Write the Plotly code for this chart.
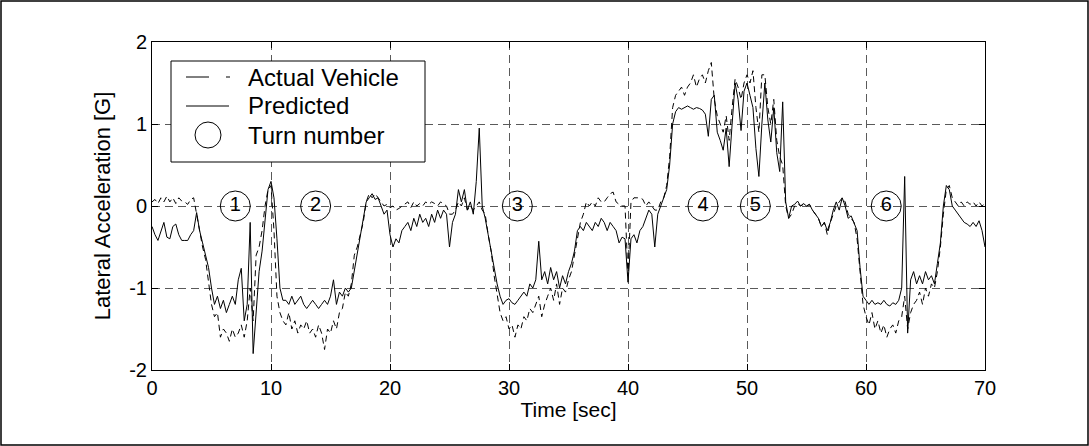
import plotly.graph_objects as go

# ---------------- data (0.25 s sampling) ----------------
SAMPLE_DT = 0.25

predicted_00_10 = [-0.25, -0.35, -0.42, -0.30, -0.20, -0.38, -0.40, -0.25, -0.22, -0.35,
                   -0.42, -0.42, -0.42, -0.35, -0.30, -0.08, -0.30, -0.45, -0.60, -0.75,
                   -1.00, -1.20, -1.10, -1.25, -1.15, -1.30, -1.20, -1.10, -1.20, -0.90,
                   -0.76, -1.40, -1.20, -0.20, -1.80, -1.30, -0.80, -0.55, -0.20, 0.20]
actual_00_10 = [0.05, 0.08, 0.03, 0.10, 0.05, 0.12, 0.05, 0.10, 0.03, 0.10,
                0.06, 0.05, 0.02, 0.08, 0.10, -0.10, -0.35, -0.50, -0.65, -0.90,
                -1.20, -1.35, -1.30, -1.60, -1.50, -1.55, -1.65, -1.50, -1.60, -1.55,
                -1.45, -1.60, -1.40, -1.00, -1.40, -0.60, -0.50, -0.30, 0.00, 0.20]

predicted_10_20 = [0.30, 0.10, -0.40, -1.00, -1.15, -1.15, -1.20, -1.10, -1.20, -1.15,
                   -1.10, -1.20, -1.25, -1.20, -1.15, -1.20, -1.25, -1.20, -1.15, -1.20,
                   -1.10, -0.90, -1.20, -1.05, -1.10, -1.00, -1.05, -1.00, -0.80, -0.55,
                   -0.35, -0.15, 0.05, 0.10, 0.15, 0.08, 0.10, 0.00, -0.10, -0.05]
actual_10_20 = [0.25, -0.30, -1.10, -1.30, -1.40, -1.45, -1.30, -1.50, -1.40, -1.55,
                -1.45, -1.50, -1.40, -1.55, -1.50, -1.60, -1.45, -1.55, -1.75, -1.50,
                -1.55, -1.40, -1.50, -1.30, -1.25, -1.05, -1.10, -0.95, -0.60, -0.50,
                -0.35, -0.20, 0.05, 0.15, 0.10, 0.15, 0.10, 0.05, 0.00, 0.02]

predicted_20_30 = [-0.35, -0.50, -0.40, -0.45, -0.30, -0.25, -0.20, -0.30, -0.15, -0.25,
                   -0.10, -0.20, -0.15, -0.25, -0.10, -0.20, -0.05, -0.15, -0.05, -0.10,
                   -0.50, -0.20, -0.10, 0.20, 0.05, 0.20, -0.05, 0.05, -0.10, 0.30,
                   0.95, 0.00, -0.15, -0.35, -0.55, -0.80, -0.95, -1.10, -1.20, -1.15]
actual_20_30 = [-0.02, 0.00, -0.05, -0.03, 0.00, 0.02, 0.05, -0.02, 0.05, 0.00,
                0.03, 0.00, 0.05, 0.02, 0.05, 0.03, 0.00, 0.05, 0.02, 0.00,
                -0.10, -0.10, -0.05, 0.05, 0.00, 0.10, -0.05, 0.00, -0.05, 0.00,
                0.05, -0.05, -0.10, -0.35, -0.55, -0.85, -1.10, -1.30, -1.40, -1.35]

predicted_30_40 = [-1.13, -1.18, -1.20, -1.15, -1.10, -1.05, -1.10, -0.95, -1.00, -0.90,
                   -0.43, -0.90, -0.80, -0.95, -0.75, -0.90, -0.80, -1.00, -0.85, -0.95,
                   -0.80, -0.70, -0.55, -0.30, -0.25, -0.30, -0.20, -0.25, -0.30, -0.20,
                   -0.25, -0.15, -0.20, -0.30, -0.20, -0.25, -0.30, -0.45, -0.38, -0.40]
actual_30_40 = [-1.50, -1.45, -1.60, -1.45, -1.50, -1.35, -1.40, -1.25, -1.30, -1.20,
                -1.10, -1.35, -1.20, -1.10, -1.00, -1.15, -0.95, -1.20, -1.00, -1.05,
                -0.90, -0.80, -0.60, -0.35, -0.20, -0.10, 0.05, 0.00, 0.05, 0.00,
                0.10, 0.05, 0.05, 0.10, 0.15, 0.17, 0.05, 0.02, 0.00, 0.00]

predicted_40_50 = [-0.93, -0.40, -0.35, -0.45, -0.30, -0.25, -0.15, -0.05, -0.10, -0.50,
                   -0.10, 0.00, 0.10, 0.20, 0.50, 1.00, 1.15, 1.20, 1.18, 1.20,
                   1.22, 1.20, 1.18, 1.20, 1.19, 1.17, 1.12, 0.85, 1.30, 1.35,
                   0.90, 0.80, 0.68, 0.95, 0.48, 1.00, 1.50, 1.30, 0.92, 1.40]
actual_40_50 = [-0.85, 0.05, 0.10, 0.10, 0.10, 0.08, 0.00, 0.05, 0.00, -0.05,
                -0.05, 0.05, 0.10, 0.25, 0.60, 1.20, 1.35, 1.40, 1.45, 1.35,
                1.45, 1.50, 1.60, 1.45, 1.55, 1.60, 1.50, 1.65, 1.75, 1.30,
                1.10, 1.00, 0.90, 1.10, 0.80, 1.20, 1.55, 1.45, 1.30, 1.50]

predicted_50_60 = [1.50, 1.35, 1.20, 0.70, 0.36, 1.00, 1.50, 1.05, 0.78, 1.20,
                   0.65, 0.42, 1.27, 0.05, -0.15, 0.00, 0.02, 0.06, 0.00, 0.03,
                   0.00, 0.02, -0.05, -0.10, -0.15, -0.25, -0.20, -0.30, -0.20, -0.05,
                   0.05, -0.05, 0.10, 0.00, -0.15, -0.12, -0.20, -0.30, -0.75, -1.10]
actual_50_60 = [1.60, 1.50, 1.65, 1.20, 0.90, 1.60, 1.60, 1.20, 1.00, 1.30,
                0.80, 0.60, 0.50, 0.00, -0.15, -0.10, 0.00, 0.03, 0.00, 0.02,
                0.00, 0.02, -0.05, -0.10, -0.15, -0.25, -0.20, -0.35, -0.20, -0.10,
                0.00, 0.05, 0.10, 0.05, -0.10, -0.15, -0.20, -0.40, -0.80, -1.20]

predicted_60_70 = [-1.15, -1.20, -1.15, -1.20, -1.18, -1.20, -1.15, -1.20, -1.22, -1.18,
                   -1.20, -1.15, -1.00, 0.36, -1.55, -0.90, -0.80, -0.95, -0.85, -0.95,
                   -0.80, -0.90, -0.85, -0.95, -0.70, -0.45, 0.00, 0.25, 0.20, 0.00,
                   -0.05, -0.10, -0.15, -0.20, -0.22, -0.25, -0.20, -0.25, -0.18, -0.30,
                   -0.50]
actual_60_70 = [-1.35, -1.45, -1.30, -1.50, -1.40, -1.55, -1.45, -1.60, -1.50, -1.45,
                -1.55, -1.40, -1.35, -1.10, -1.50, -1.30, -1.20, -1.15, -1.05, -1.20,
                -1.00, -1.10, -0.95, -1.00, -0.80, -0.50, -0.10, 0.20, 0.25, 0.10,
                0.05, 0.00, 0.05, 0.00, 0.05, 0.02, 0.05, 0.00, 0.05, 0.00,
                0.03]

predicted = (predicted_00_10 + predicted_10_20 + predicted_20_30 + predicted_30_40
             + predicted_40_50 + predicted_50_60 + predicted_60_70)
actual = (actual_00_10 + actual_10_20 + actual_20_30 + actual_30_40
          + actual_40_50 + actual_50_60 + actual_60_70)
time_sec = [round(i * SAMPLE_DT, 2) for i in range(len(predicted))]

turn_times = [7.0, 13.75, 30.7, 46.3, 50.7, 61.7]
turn_values = [0, 0, 0, 0, 0, 0]
turn_labels = ["1", "2", "3", "4", "5", "6"]

x_ticks = [0, 10, 20, 30, 40, 50, 60, 70]
x_tick_labels = ["0", "10", "20", "30", "40", "50", "60", "70"]
y_ticks = [-2, -1, 0, 1, 2]
y_tick_labels = ["-2", "-1", "0", "1", "2"]

legend_names = ["Actual Vehicle", "Predicted", "Turn number"]

# ---------------- figure ----------------
W, H = 1089, 446
L, R, T, B = 152, 104, 42, 76
FONT = "Liberation Sans, Arial, Helvetica, sans-serif"


def px(x):
    return (x - L) / (W - L - R)


def py(y):
    return (H - B - y) / (H - T - B)


fig = go.Figure()

fig.add_trace(go.Scatter(x=time_sec, y=actual, mode="lines", name=legend_names[0],
                         line=dict(color="black", width=1, dash="6px,4px"),
                         showlegend=False))
fig.add_trace(go.Scatter(x=time_sec, y=predicted, mode="lines", name=legend_names[1],
                         line=dict(color="black", width=1), showlegend=False))
fig.add_trace(go.Scatter(x=turn_times, y=turn_values, mode="markers+text",
                         name=legend_names[2], text=turn_labels,
                         textposition="middle center",
                         textfont=dict(family=FONT, size=20, color="black"),
                         marker=dict(symbol="circle-open", size=30,
                                     color="black", line=dict(width=1)),
                         showlegend=False))

shapes = []
annotations = []

# outer frame
shapes.append(dict(type="rect", xref="paper", yref="paper",
                   x0=px(1), x1=px(1088), y0=py(445), y1=py(1),
                   line=dict(color="black", width=1.5), layer="below"))

# legend box
lx0, lx1, ly0, ly1 = 171, 425, 61, 162
shapes.append(dict(type="rect", xref="paper", yref="paper",
                   x0=px(lx0), x1=px(lx1), y0=py(ly1), y1=py(ly0),
                   line=dict(color="black", width=1), fillcolor="white", layer="above"))
row_y = [77, 106, 135]
# Actual vehicle sample (long dash + short dash)
shapes.append(dict(type="line", xref="paper", yref="paper",
                   x0=px(186), x1=px(209), y0=py(row_y[0]), y1=py(row_y[0]),
                   line=dict(color="black", width=1), layer="above"))
shapes.append(dict(type="line", xref="paper", yref="paper",
                   x0=px(226), x1=px(230), y0=py(row_y[0]), y1=py(row_y[0]),
                   line=dict(color="black", width=1), layer="above"))
# Predicted sample
shapes.append(dict(type="line", xref="paper", yref="paper",
                   x0=px(186), x1=px(229), y0=py(row_y[1]), y1=py(row_y[1]),
                   line=dict(color="black", width=1), layer="above"))
# Turn number sample circle
shapes.append(dict(type="circle", xref="paper", yref="paper",
                   x0=px(195), x1=px(221), y0=py(row_y[2] + 13), y1=py(row_y[2] - 13),
                   line=dict(color="black", width=1), layer="above"))
for name, yy in zip(legend_names, row_y):
    annotations.append(dict(text=name, xref="paper", yref="paper",
                            x=px(246), y=py(yy), xanchor="left", yanchor="middle",
                            showarrow=False,
                            font=dict(family=FONT, size=24, color="black")))

axis_common = dict(showline=True, linecolor="black", linewidth=1, mirror="ticks",
                   ticks="inside", ticklen=6, tickcolor="black",
                   showgrid=True, gridcolor="#5a5a5a", gridwidth=1, griddash="8px,5px",
                   zeroline=False, tickfont=dict(family=FONT, size=20, color="black"))

fig.update_layout(
    width=W, height=H,
    margin=dict(l=L, r=R, t=T, b=B, pad=0),
    paper_bgcolor="white", plot_bgcolor="white",
    showlegend=False,
    font=dict(family=FONT, color="black"),
    xaxis=dict(range=[0, 70], tickvals=x_ticks, ticktext=x_tick_labels,
               title=dict(text="Time [sec]", font=dict(family=FONT, size=21), standoff=4),
               **axis_common),
    yaxis=dict(range=[-2, 2], tickvals=y_ticks, ticktext=y_tick_labels,
               title=dict(text="Lateral Acceleration [G]", font=dict(family=FONT, size=22),
                          standoff=12),
               **axis_common),
    shapes=shapes,
    annotations=annotations,
)

fig.write_html("out.html")
